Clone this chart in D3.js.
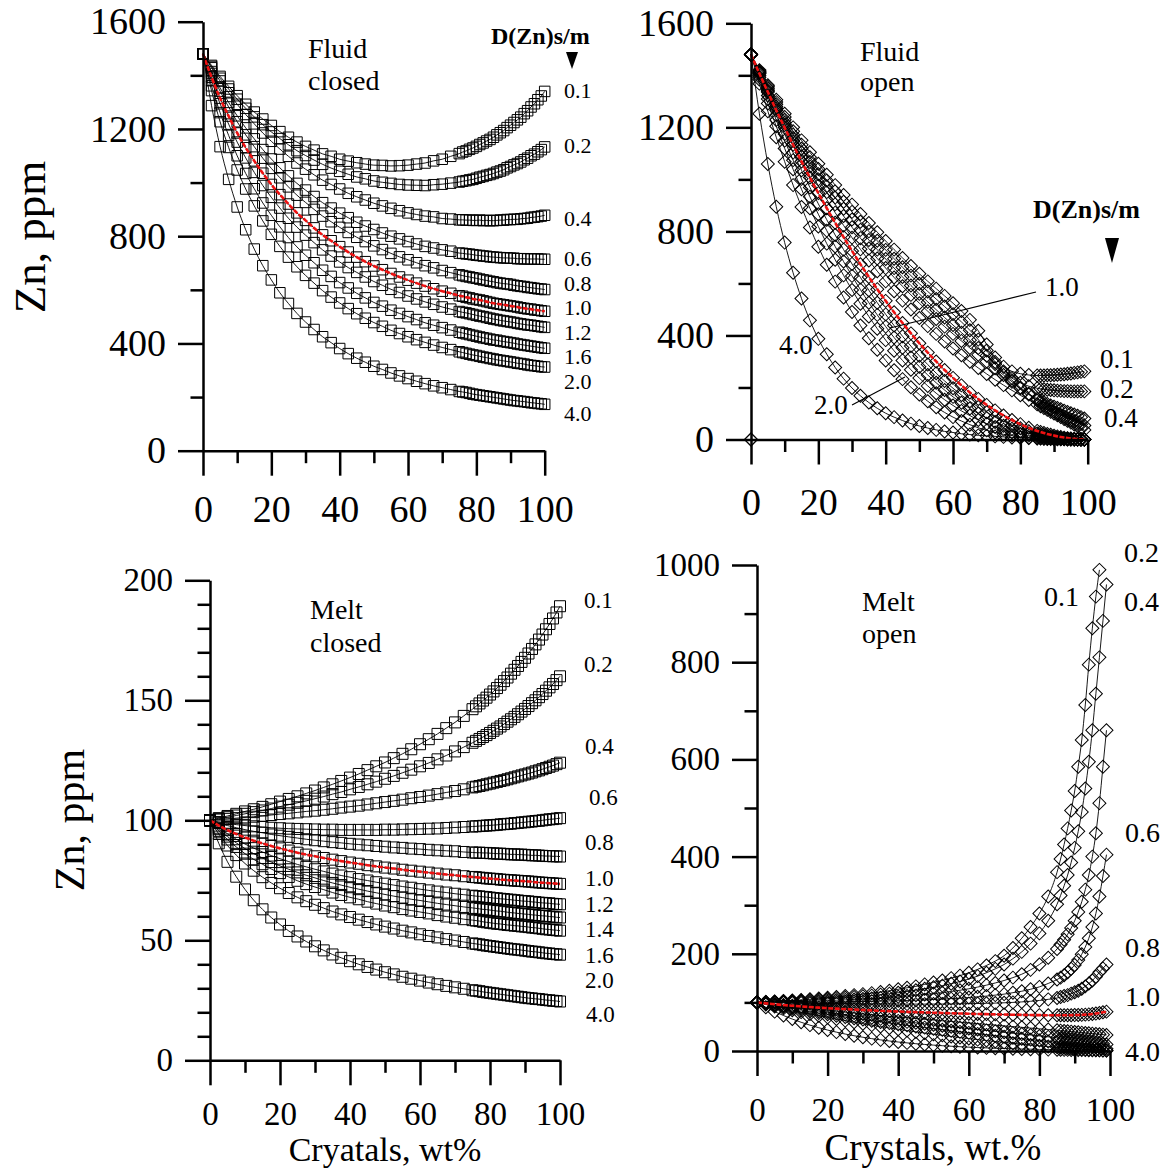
<!DOCTYPE html>
<html><head><meta charset="utf-8">
<script src="https://cdnjs.cloudflare.com/ajax/libs/d3/7.8.5/d3.min.js"></script>
<style>body{margin:0;background:#fff}svg{display:block}</style>
</head><body><svg id="c" width="1168" height="1171"></svg>
<script>
// ---------------- DATA ----------------
const xTicksMajor = [0,20,40,60,80,100];
const xTicksMinor = [10,30,50,70,90];
const yTicksFluid = [0,400,800,1200,1600];
const yMinorFluid = [200,600,1000,1400];
const yTicksMeltClosed = [0,50,100,150,200];
const yMinorMeltClosed = [10,20,30,40,60,70,80,90,110,120,130,140,160,170,180,190];
const yTicksMeltOpen = [0,200,400,600,800,1000];
const yMinorMeltOpen = [100,300,500,700,900];

// crystal wt% grid (closed system)
const xClosed = [0,2.5,5,7.5,10,12.5,15,17.5,20,22.5,25,27.5,30,32.5,35,37.5,40,42.5,45,47.5,50,52.5,55,57.5,60,62.5,65,67.5,70,72.5,75,
  76,77,78,79,80,81,82,83,84,85,86,87,88,89,90,91,92,93,94,95,96,97,98,99,100];
// crystal wt% grid (open system)
const xOpen = [0,2.5,5,7.5,10,12.5,15,17.5,20,22.5,25,27.5,30,32.5,35,37.5,40,42.5,45,47.5,50,52.5,55,57.5,60,62.5,65,67.5,70,72.5,75,77.5,80,82.5,85,
  86,87,88,89,90,91,92,93,94,95,96,97,98,99];

const dFluidClosed = ["0.1","0.2","0.4","0.6","0.8","1.0","1.2","1.6","2.0","4.0"];
const dMelt = ["0.1","0.2","0.4","0.6","0.8","1.0","1.2","1.4","1.6","2.0","4.0"];

// Fluid, closed system (Zn ppm)
const fc01 = [1480,1437,1396,1359,1324,1292,1263,1237,1213,1190,1169,1151,1135,1121,1107,1098,1087,1080,1074,1069,1065,1064,1062,1063,1065,1069,1073,1081,1087,1098,1108,1114,1118,1124,1129,1135,1142,1148,1155,1161,1169,1178,1186,1194,1205,1214,1224,1234,1244,1257,1268,1282,1294,1309,1323,1340];
const fc02 = [1480,1433,1389,1349,1311,1277,1245,1216,1189,1164,1141,1119,1101,1084,1068,1054,1042,1031,1021,1014,1006,1001,997,993,991,990,989,992,994,998,1002,1005,1007,1010,1012,1016,1020,1023,1027,1030,1034,1039,1043,1048,1055,1060,1066,1071,1077,1085,1091,1100,1106,1115,1123,1133];
const fc04 = [1480,1428,1379,1335,1292,1254,1219,1185,1154,1125,1098,1073,1050,1029,1009,993,976,960,947,935,923,913,904,895,887,881,875,872,866,864,861,861,860,860,859,859,860,858,859,858,858,859,860,860,862,862,863,863,865,866,867,870,871,873,875,878];
const fc06 = [1480,1414,1353,1299,1249,1204,1163,1123,1088,1055,1025,997,972,948,925,905,886,869,852,838,825,812,800,790,780,771,762,756,749,744,737,736,734,733,731,729,728,726,725,723,722,721,720,719,719,718,718,716,716,716,715,715,715,715,714,714];
const fc08 = [1480,1407,1341,1282,1227,1178,1134,1091,1053,1018,984,953,926,900,875,854,833,814,796,780,764,750,736,723,712,701,690,682,672,664,656,653,650,648,645,643,640,637,635,632,630,627,625,623,622,620,617,615,613,612,609,608,606,604,603,601];
const fc10 = [1480,1393,1315,1248,1185,1130,1081,1035,993,955,920,887,859,831,805,783,761,741,722,705,689,675,661,648,636,625,614,604,595,587,578,576,572,570,566,564,562,559,556,553,550,548,546,544,542,540,538,536,533,531,529,528,525,524,522,520];
const fc12 = [1480,1380,1294,1218,1151,1092,1038,989,945,905,867,834,804,776,749,726,704,683,665,648,631,617,602,590,577,566,555,546,536,528,519,516,514,511,508,505,502,500,497,494,491,489,486,484,482,480,478,475,473,471,469,468,466,464,462,460];
const fc16 = [1480,1361,1261,1176,1100,1034,977,924,878,835,795,760,729,701,673,650,627,607,587,570,553,539,524,512,500,489,477,468,459,450,442,439,436,433,430,427,424,421,419,416,413,412,409,407,405,403,401,398,396,394,392,390,388,386,384,382];
const fc20 = [1480,1343,1227,1131,1047,976,913,857,807,762,722,686,654,625,597,573,551,530,511,494,478,464,449,437,425,414,404,394,385,377,369,366,363,360,357,355,352,349,347,344,342,339,337,335,333,331,329,326,325,323,320,318,317,315,313,312];
const fc40 = [1480,1287,1134,1012,909,824,752,690,637,589,549,512,480,452,425,403,381,362,345,330,315,303,290,279,269,259,250,242,235,228,221,219,217,214,211,209,207,205,203,201,199,197,195,193,191,189,187,186,184,183,181,179,178,176,175,173];

// Melt, closed system (Zn ppm)
const mc01 = [100,100.9,101.8,102.7,103.7,104.6,105.6,106.7,107.8,108.9,110,111.2,112.4,113.7,115,116.4,117.8,119.3,120.9,122.5,124.1,125.9,127.7,129.6,131.7,133.8,136,138.4,140.8,143.5,146.3,147.5,148.7,149.9,151.1,152.4,153.7,155.1,156.5,158,159.5,161.1,162.7,164.3,166,167.7,169.5,171.4,173.3,175.3,177.4,179.6,181.8,184.1,186.6,189.2];
const mc02 = [100,100.6,101.3,102,102.7,103.4,104.1,104.9,105.7,106.5,107.3,108.1,109,109.9,110.9,111.8,112.9,113.9,115,116.1,117.3,118.5,119.8,121.1,122.5,123.9,125.4,127,128.7,130.5,132.3,133.1,133.9,134.7,135.5,136.4,137.3,138.2,139.1,140.1,141.1,142.1,143.1,144.2,145.3,146.4,147.6,148.8,150,151.3,152.6,154,155.4,156.8,158.4,160];
const mc04 = [100,100.3,100.6,100.9,101.2,101.5,101.9,102.2,102.6,102.9,103.3,103.7,104,104.4,104.8,105.3,105.7,106.1,106.6,107.1,107.6,108.1,108.6,109.2,109.7,110.3,110.9,111.6,112.2,112.9,113.7,114,114.3,114.6,115,115.3,115.7,116,116.4,116.7,117.1,117.5,117.9,118.3,118.7,119.1,119.5,119.9,120.4,120.8,121.3,121.8,122.3,122.8,123.4,124];
const mc06 = [100,99.3,98.7,98.2,97.8,97.5,97.2,96.9,96.7,96.5,96.4,96.3,96.2,96.1,96.1,96,96,96,96,96,96.1,96.1,96.2,96.3,96.4,96.5,96.6,96.8,97,97.2,97.4,97.5,97.6,97.7,97.8,97.9,98,98.1,98.3,98.4,98.5,98.6,98.8,98.9,99.1,99.2,99.4,99.5,99.7,99.8,100,100.2,100.4,100.5,100.7,100.9];
const mc08 = [100,98.8,97.8,96.9,96.1,95.4,94.8,94.1,93.6,93.1,92.6,92.1,91.7,91.3,90.9,90.6,90.2,89.9,89.6,89.3,89,88.7,88.5,88.2,88,87.7,87.5,87.3,87.1,86.8,86.6,86.5,86.5,86.4,86.4,86.3,86.2,86.1,86.1,86,85.9,85.8,85.8,85.7,85.7,85.6,85.5,85.4,85.4,85.3,85.2,85.1,85.1,85,85,84.9];
const mc10 = [100,97.8,95.9,94.3,92.8,91.5,90.4,89.3,88.3,87.4,86.5,85.7,85,84.3,83.6,83,82.4,81.9,81.3,80.8,80.3,79.9,79.4,79,78.6,78.2,77.8,77.4,77.1,76.7,76.4,76.3,76.1,76,75.8,75.7,75.6,75.5,75.3,75.2,75.1,75,74.9,74.8,74.7,74.6,74.5,74.4,74.2,74.1,74,73.9,73.8,73.7,73.6,73.5];
const mc12 = [100,96.9,94.4,92.1,90.1,88.4,86.8,85.3,84,82.8,81.6,80.6,79.6,78.7,77.8,77,76.3,75.5,74.9,74.2,73.6,73,72.4,71.9,71.3,70.8,70.3,69.9,69.4,69,68.6,68.4,68.3,68.1,68,67.8,67.6,67.5,67.3,67.2,67,66.9,66.7,66.6,66.4,66.3,66.2,66,65.9,65.7,65.6,65.5,65.4,65.2,65.1,65];
const mc14 = [100,96.3,93.2,90.6,88.2,86.1,84.3,82.6,81,79.6,78.3,77.1,76,74.9,73.9,73,72.1,71.3,70.5,69.8,69.1,68.4,67.8,67.1,66.6,66,65.4,64.9,64.4,63.9,63.5,63.3,63.1,62.9,62.8,62.6,62.4,62.2,62.1,61.9,61.7,61.5,61.4,61.2,61.1,60.9,60.8,60.6,60.5,60.3,60.2,60.1,59.9,59.8,59.6,59.5];
const mc16 = [100,95.6,92,88.9,86.1,83.7,81.7,79.7,78,76.4,74.8,73.4,72.2,71.1,69.9,68.9,67.9,67.1,66.1,65.3,64.5,63.8,63,62.4,61.8,61.2,60.5,59.9,59.4,58.8,58.4,58.2,58,57.7,57.5,57.3,57.1,56.9,56.8,56.6,56.4,56.3,56.1,56,55.8,55.7,55.5,55.3,55.2,55,54.8,54.6,54.5,54.3,54.2,54];
const mc20 = [100,94.3,89.5,85.5,82,79,76.3,73.9,71.7,69.7,67.9,66.3,64.8,63.4,62,60.8,59.7,58.6,57.6,56.6,55.7,54.9,54,53.3,52.5,51.8,51.2,50.5,49.9,49.3,48.7,48.5,48.3,48,47.8,47.6,47.4,47.2,47,46.8,46.6,46.4,46.2,46.1,45.9,45.7,45.5,45.3,45.2,45,44.8,44.6,44.5,44.3,44.2,44];
const mc40 = [100,90.4,82.7,76.5,71.2,66.7,62.9,59.5,56.6,53.9,51.6,49.5,47.5,45.8,44.1,42.7,41.3,40,38.9,37.8,36.7,35.8,34.8,34,33.2,32.4,31.7,31,30.4,29.8,29.2,29,28.8,28.5,28.3,28.1,27.9,27.7,27.5,27.3,27.1,26.9,26.7,26.5,26.3,26.1,25.9,25.8,25.6,25.5,25.3,25.1,25,24.8,24.7,24.5];

// Fluid, open system (Zn ppm)
const fo01 = [1480,1420,1362,1306,1252,1200,1150,1104,1060,1018,978,940,903,867,832,797,763,730,698,667,637,608,580,552,524,494,460,418,365,315,280,262,253,248,246,246,246,247,247,248,249,250,251,253,254,256,258,260,262];
const fo02 = [1480,1417,1356,1297,1240,1185,1133,1085,1040,996,954,914,875,837,800,764,729,695,662,630,599,569,540,511,482,452,420,384,342,298,262,236,218,205,197,195,193,191,190,189,188,187,186,186,185,185,185,185,185];
const fo04 = [1480,1414,1350,1289,1229,1172,1118,1067,1020,974,930,887,846,806,767,730,694,659,625,592,560,529,499,469,440,411,382,352,322,290,258,228,200,176,156,149,143,137,131,126,121,116,111,106,101,96,91,86,81];
const fo06 = [1480,1411,1344,1280,1218,1159,1103,1050,1000,951,904,859,816,774,734,696,659,623,589,556,524,493,463,434,406,379,352,326,300,274,248,222,197,173,150,141,132,124,116,108,101,94,87,81,75,69,64,59,54];
const fo08 = [1480,1409,1340,1273,1209,1147,1088,1031,976,923,872,823,776,731,688,647,608,570,534,500,467,436,406,377,350,324,299,275,252,230,209,189,170,152,135,128,121,114,107,100,93,86,79,72,65,58,51,44,37];
const fo10 = [1480,1407,1336,1266,1199,1133,1069,1007,947,889,833,778,725,674,625,578,533,489,448,408,370,334,300,267,237,208,181,156,133,112,92.5,75,59,45,33,29,25,21,18,15,12,9.5,7.3,5.3,3.7,2.4,1.3,0.6,0.1];
const fo12 = [1480,1400,1322,1247,1174,1103,1035,969,906,845,786,730,675,623,574,526,481,438,397,359,322,288,255,225,197,171,147,125,105,86,70,56,43,32,23,20,17,14,11.5,9.3,7.4,5.7,4.3,3,2,1.2,0.6,0.2,0];
const fo14 = [1480,1393,1309,1228,1149,1074,1002,933,866,803,742,684,629,576,526,479,434,392,353,315,280,248,218,190,164,141,119,100,82,67,53,41,31,23,16,13,11,9.1,7.4,5.9,4.6,3.4,2.4,1.7,1.1,0.6,0.3,0.1,0];
const fo16 = [1480,1384,1292,1204,1119,1039,962,889,819,753,691,631,575,522,473,426,382,341,304,268,236,206,178,153,131,110,92,75,61,48,38,28,21,15,9.7,8.1,6.7,5.4,4.2,3.3,2.5,1.8,1.3,0.9,0.5,0.3,0.1,0,0];
const fo20 = [1480,1368,1262,1162,1068,978,894,815,741,672,607,546,490,438,389,345,304,266,232,201,173,147,124,104,86,71,57,45,35,27,20,15,10,6.7,4.1,3.4,2.6,2,1.5,1.1,0.8,0.6,0.4,0.2,0.1,0,0,0,0];
const fo40 = [1480,1252,1059,895,757,641,542,458,387,328,277,234,198,168,142,120,101,86,73,61,52,44,37,31,27,22,19,16,14,12,10,8,7,6,5,4.5,4,3.7,3.4,3.1,2.8,2.5,2.3,2,1.8,1.6,1.5,1.3,1.2];
const foOrigin = [[0,0]];

// Melt, open system (Zn ppm)
const mo01 = [100,101,102,103,104,105,106.5,108,109.5,111,113,115,117,119,121.5,124,127,130,133,137,141,145,150,155,161,168,176,185,196,212,232,255,283,318,368,395,425,458,495,535,585,640,712,795,870,935,990];
const mo02 = [100,100.8,101.6,102.4,103.2,104,105,106,107,108.2,109.5,111,112.5,114,116,118,120,122.5,125,128,131,134.5,138.5,143,148,154,161,169,178,190,204,221,242,268,302,320,340,362,388,418,452,492,540,595,660,735,810,885,960];
const mo04 = [100,100.4,100.8,101.2,101.6,102,102.6,103.2,103.8,104.5,105.2,106,107,108,109,110.2,111.5,113,114.5,116.2,118,120,122.5,125,128,131.5,135.5,140,145,151,158,167,178,192,210,219,229,240,253,268,286,307,332,362,400,448,510,585,660];
const mo06 = [100,100.1,100.2,100.3,100.4,100.5,100.6,100.7,100.9,101.1,101.3,101.6,101.9,102.2,102.6,103,103.5,104,104.6,105.3,106,106.8,107.7,108.7,110,111.5,113,115,117,120,123,127,132,139,147,151,156,162,169,177,187,199,214,232,255,283,318,360,404];
const mo08 = [100,99.7,99.4,99.1,98.8,98.5,98.2,97.9,97.7,97.5,97.3,97.1,96.9,96.8,96.7,96.6,96.5,96.5,96.5,96.5,96.6,96.7,96.9,97.1,97.4,97.7,98.1,98.6,99.2,100,101,102.3,104,106.3,109,111,113,115,118,121,124,128,133,139,145,153,162,170,178];
const mo10 = [100,98,96.2,94.6,93.1,91.7,90.4,89.2,88.1,87.1,86.1,85.2,84.3,83.5,82.7,82,81.3,80.6,80,79.4,78.8,78.2,77.7,77.2,76.7,76.2,75.8,75.4,75,74.6,74.3,74,73.8,73.6,73.5,73.5,73.5,73.6,73.7,73.9,74.1,74.4,74.8,75.3,76,77,78.2,79.6,81];
const mo12 = [100,97.7,95.5,93.3,91.2,89.2,87.2,85.3,83.4,81.6,79.8,78,76.3,74.6,73,71.4,69.8,68.2,66.7,65.2,63.7,62.2,60.7,59.2,57.7,56.2,54.7,53.2,51.7,50.2,48.7,47.2,45.7,44.2,42.6,42,41.3,40.6,39.9,39.2,38.5,37.8,37.1,36.4,35.7,35,34.3,33.6,33];
const mo14 = [100,97.2,94.5,91.9,89.3,86.8,84.3,81.9,79.5,77.2,74.9,72.7,70.5,68.3,66.2,64.1,62,60,58,56,54,52,50,48.1,46.2,44.3,42.4,40.5,38.6,36.7,34.8,32.9,31,29.1,27.1,26.3,25.5,24.7,23.9,23,22.1,21.2,20.3,19.4,18.4,17.3,16.2,15,13.5];
const mo16 = [100,96.7,93.5,90.3,87.2,84.2,81.2,78.3,75.5,72.7,70,67.4,64.8,62.3,59.8,57.4,55,52.7,50.4,48.1,45.9,43.7,41.5,39.4,37.3,35.2,33.2,31.2,29.2,27.2,25.3,23.4,21.5,19.6,17.7,16.9,16.1,15.3,14.5,13.6,12.7,11.8,10.9,10,9,8,7,6,4.8];
const mo20 = [100,95.8,91.7,87.7,83.8,80,76.3,72.7,69.2,65.8,62.5,59.3,56.2,53.2,50.3,47.5,44.8,42.1,39.5,37,34.6,32.2,29.9,27.7,25.6,23.5,21.5,19.6,17.7,15.9,14.2,12.5,10.9,9.4,7.9,7.3,6.7,6.1,5.5,5,4.4,3.9,3.4,2.9,2.4,2,1.5,1.1,0.7];
const mo40 = [100,90,81,73,65.7,59.1,53.2,47.9,43.1,38.8,34.9,31.4,28.3,25.4,22.9,20.6,18.5,16.7,15,13.5,12.1,10.9,9.8,8.8,7.9,7.1,6.4,5.7,5.1,4.6,4.1,3.7,3.3,2.9,2.6,2.5,2.4,2.3,2.2,2.1,2,1.9,1.8,1.7,1.6,1.5,1.4,1.3,1.2];

// ---------------- DRAWING ----------------
const FONT = '"Liberation Serif","Times New Roman",Times,serif';
const svg = d3.select("#c");
svg.append("rect").attr("width",1168).attr("height",1171).attr("fill","#fff");

const panels = [
  {x0:203, x1:544.7, y0:450.7, y1:21.7, ymax:1600, yMajor:yTicksFluid, yMinor:yMinorFluid, tf:38, xlab:71,
   xs:xClosed, series:[fc01,fc02,fc04,fc06,fc08,fc10,fc12,fc16,fc20,fc40], red:5, sym:"square", ms:10.5},
  {x0:751, x1:1087.7, y0:439.5, y1:23.3, ymax:1600, yMajor:yTicksFluid, yMinor:yMinorFluid, tf:38, xlab:75.5,
   xs:xOpen, series:[fo01,fo02,fo04,fo06,fo08,fo10,fo12,fo14,fo16,fo20,fo40], red:5, sym:"diamond", ms:9.2, extra:foOrigin},
  {x0:210, x1:560, y0:1060.3, y1:580.3, ymax:200, yMajor:yTicksMeltClosed, yMinor:yMinorMeltClosed, tf:33, xlab:64.7,
   xs:xClosed, series:[mc01,mc02,mc04,mc06,mc08,mc10,mc12,mc14,mc16,mc20,mc40], red:5, sym:"square", ms:11},
  {x0:757, x1:1110, y0:1051, y1:565, ymax:1000, yMajor:yTicksMeltOpen, yMinor:yMinorMeltOpen, tf:33, xlab:70,
   xs:xOpen, series:[mo01,mo02,mo04,mo06,mo08,mo10,mo12,mo14,mo16,mo20,mo40], red:5, sym:"diamond", ms:9.2}
];

function styleAxis(g, fs){
  g.attr("font-family", FONT).attr("font-size", fs);
  g.selectAll(".domain,.tick line").attr("stroke","#000").attr("stroke-width",2.5);
  g.selectAll("text").attr("fill","#000");
}

panels.forEach(p => {
  const x = d3.scaleLinear().domain([0,100]).range([p.x0,p.x1]);
  const y = d3.scaleLinear().domain([0,p.ymax]).range([p.y0,p.y1]);
  const g = svg.append("g");

  const line = d3.line().x(d=>x(d[0])).y(d=>y(d[1])).curve(d3.curveMonotoneX);
  const sym = d3.symbol().type(d3.symbolSquare).size(p.ms*p.ms)();
  const rot = p.sym === "diamond" ? 45 : 0;
  p.series.forEach(vals => {
    const pts = d3.zip(p.xs, vals);
    g.append("path").attr("d", line(pts)).attr("fill","none").attr("stroke","#000").attr("stroke-width",0.9);
    g.append("g").selectAll("path").data(pts).join("path")
      .attr("d", sym)
      .attr("transform", d=>`translate(${x(d[0])},${y(d[1])}) rotate(${rot})`)
      .attr("fill","none").attr("stroke","#000").attr("stroke-width",1);
  });
  if (p.extra) {
    g.append("g").selectAll("path").data(p.extra).join("path").attr("d", sym)
      .attr("transform", d=>`translate(${x(d[0])},${y(d[1])}) rotate(${rot})`)
      .attr("fill","none").attr("stroke","#000").attr("stroke-width",1.3);
  }
  const redPts = d3.zip(p.xs, p.series[p.red]);
  g.append("path").attr("d", line(redPts)).attr("fill","none").attr("stroke","#ee1111")
    .attr("stroke-width",2.6).attr("stroke-dasharray","5 1.5");

  const ax = g.append("g").attr("transform",`translate(0,${p.y0})`)
    .call(d3.axisBottom(x).tickValues(xTicksMajor).tickSize(25).tickSizeOuter(0).tickFormat(d3.format("d")));
  styleAxis(ax, p.tf);
  ax.selectAll("text").attr("y", p.xlab).attr("dy", 0);
  const axm = g.append("g").attr("transform",`translate(0,${p.y0})`)
    .call(d3.axisBottom(x).tickValues(xTicksMinor).tickSize(12.5).tickSizeOuter(0).tickFormat(""));
  axm.select(".domain").remove(); styleAxis(axm, p.tf);

  const ay = g.append("g").attr("transform",`translate(${p.x0},0)`)
    .call(d3.axisLeft(y).tickValues(p.yMajor).tickSize(25).tickPadding(12).tickSizeOuter(0).tickFormat(d3.format("d")));
  styleAxis(ay, p.tf);
  const aym = g.append("g").attr("transform",`translate(${p.x0},0)`)
    .call(d3.axisLeft(y).tickValues(p.yMinor).tickSize(12.5).tickSizeOuter(0).tickFormat(""));
  aym.select(".domain").remove(); styleAxis(aym, p.tf);
});

// ---------------- TEXT ----------------
function txt(s, x, y, fs, opts={}) {
  const t = svg.append("text").attr("x",x).attr("y",y).attr("font-family",FONT)
    .attr("font-size",fs).attr("fill","#000").text(s);
  if (opts.bold) t.attr("font-weight","bold");
  if (opts.anchor) t.attr("text-anchor",opts.anchor);
  if (opts.rot) t.attr("transform",`rotate(-90,${x},${y})`);
  return t;
}
txt("Fluid",308,58,28); txt("closed",308,90,28);
txt("Fluid",860,61,28); txt("open",860,91,28);
txt("Melt",310,619,28); txt("closed",310,652,28);
txt("Melt",862,611,28); txt("open",862,643,28);
txt("Zn, ppm",45,237,45,{anchor:"middle",rot:true});
txt("Zn, ppm",84,820,42,{anchor:"middle",rot:true});
txt("Cryatals, wt%",385,1161,34,{anchor:"middle"});
txt("Crystals, wt.%",933,1160,37,{anchor:"middle"});
txt("D(Zn)s/m",491,44,24,{bold:true});
svg.append("path").attr("d","M566,52 L578,52 L572,69 Z").attr("fill","#000");
txt("D(Zn)s/m",1033,218,26,{bold:true});
svg.append("path").attr("d","M1105,238 L1119,238 L1112,263 Z").attr("fill","#000");

// panel 1 series labels
const lab1Y = [98,153,226,266,290.5,315,339.5,364,388.5,421];
dFluidClosed.forEach((s,i)=>txt(s,564,lab1Y[i],22));
// panel 2 labels
txt("0.1",1100,368,27); txt("0.2",1100,398,27); txt("0.4",1104,427,27);
txt("1.0",1045,296,27); txt("4.0",779,354,27); txt("2.0",814,414,27);
svg.append("line").attr("x1",1036).attr("y1",292).attr("x2",890).attr("y2",328).attr("stroke","#000").attr("stroke-width",1.2);
svg.append("line").attr("x1",852).attr("y1",405).attr("x2",905).attr("y2",377).attr("stroke","#000").attr("stroke-width",1.2);
// panel 3 labels
const lab3Y = [608,672,754,805,850,886,911.5,937,962.5,988,1022];
const lab3X = [584,584,585,589,585,585,585,585,585,585,586];
dMelt.forEach((s,i)=>txt(s,lab3X[i],lab3Y[i],23));
// panel 4 labels
txt("0.2",1124,562,28); txt("0.1",1044,606,28); txt("0.4",1124,611,28);
txt("0.6",1125,842,28); txt("0.8",1125,957,28); txt("1.0",1125,1006,28); txt("4.0",1125,1061,28);
</script></body></html>
